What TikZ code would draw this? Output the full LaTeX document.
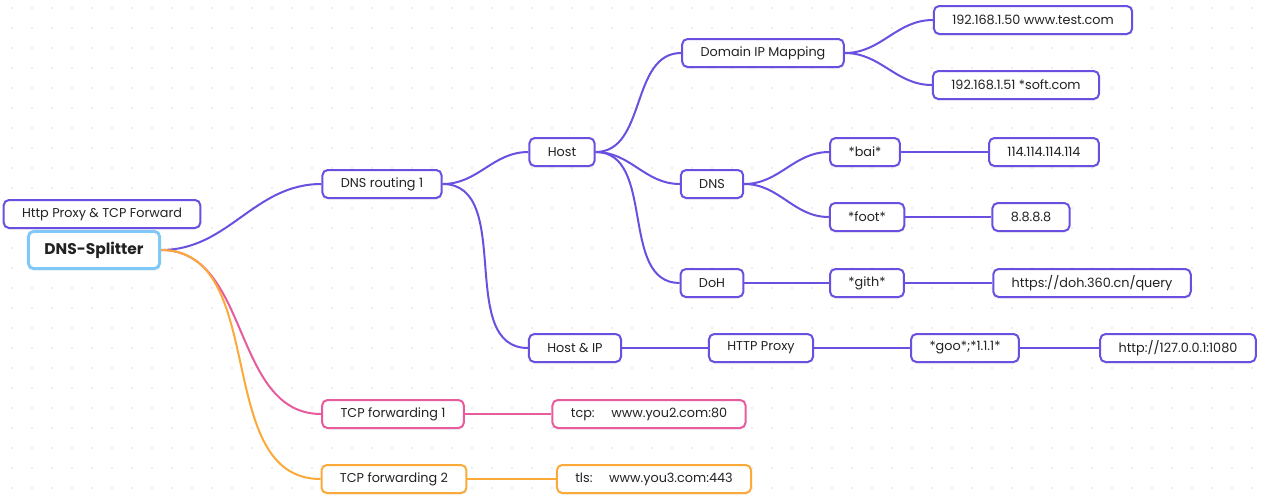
\documentclass[tikz,border=0pt]{standalone}
\usepackage{fontspec}
\setmainfont{Poppins}
\usepackage{xcolor}
\usetikzlibrary{shadows,backgrounds}
\definecolor{MapPurple}{HTML}{6A4FE0}
\definecolor{MapPink}{HTML}{E65C9C}
\definecolor{MapOrange}{HTML}{FBAA3A}
\definecolor{MapBlue}{HTML}{80C8F8}
\definecolor{MapDot}{HTML}{DCDCDC}
\definecolor{MapText}{HTML}{222222}

\begin{document}
\begin{tikzpicture}[
    x=0.75pt, y=-0.75pt,
    topic/.style={
      rounded corners=4pt,
      draw=MapPurple,
      fill=white,
      line width=1.5pt,
      minimum height=21pt,
      inner xsep=13.8pt,
      inner ysep=0pt,
      text=MapText,
      drop shadow={opacity=0.08,shadow xshift=0pt,shadow yshift=-1.5pt},
      font=\fontsize{9.6}{11}\selectfont
    },
    pinktopic/.style={topic,draw=MapPink},
    orangetopic/.style={topic,draw=MapOrange},
    roottopic/.style={topic,draw=MapBlue,line width=2.2pt,minimum height=28pt,
      inner xsep=12pt,font=\fontsize{11.6}{14}\selectfont\bfseries},
    link/.style={line width=1.5pt,color=MapPurple},
    pinklink/.style={link,color=MapPink},
    orangelink/.style={link,color=MapOrange}
  ]
  \useasboundingbox (0,0) rectangle (1268,501);

  \node[topic] (note) at (102,214) {Http Proxy \& TCP Forward};
  \node[roottopic] (root) at (94,250) {DNS-Splitter};

  \node[topic] (route) at (382,184) {DNS routing 1};
  \node[topic] (host) at (562,152) {Host};
  \node[topic] (map) at (763,53) {Domain IP Mapping};
  \node[topic] (test) at (1033,20) {192.168.1.50 www.test.com};
  \node[topic] (soft) at (1016,85) {192.168.1.51 *soft.com};
  \node[topic] (dns) at (712,184) {DNS};
  \node[topic] (bai) at (865,152) {*bai*};
  \node[topic] (ip114) at (1044,152) {114.114.114.114};
  \node[topic] (foot) at (867,217) {*foot*};
  \node[topic] (ip8) at (1031,217) {8.8.8.8};
  \node[topic] (doh) at (712,283) {DoH};
  \node[topic] (gith) at (867,283) {*gith*};
  \node[topic] (dohurl) at (1092,283) {https://doh.360.cn/query};
  \node[topic] (hostip) at (575,348) {Host \& IP};
  \node[topic] (proxy) at (761,348) {HTTP Proxy};
  \node[topic] (goo) at (965,348) {*goo*;*1.1.1*};
  \node[topic] (proxyurl) at (1178,348) {http://127.0.0.1:1080};

  \node[pinktopic] (tcp1) at (393,414) {TCP forwarding 1};
  \node[pinktopic] (you2) at (649,414) {tcp:\hspace{1.3em}www.you2.com:80};
  \node[orangetopic] (tcp2) at (394,479) {TCP forwarding 2};
  \node[orangetopic] (you3) at (654,479) {tls:\hspace{1.3em}www.you3.com:443};

  \begin{scope}[on background layer]
    % dotted canvas
    \fill[white] (0,0) rectangle (1268,501);
    \foreach \x in {12,32,...,1268}
      \foreach \y in {8,28,...,501}
        \fill[MapDot] (\x,\y) circle (0.6pt);
    % links under the boxes
    \draw[link] (root.east) to[out=0,in=180] (route.west);
    \draw[link] (route.east) to[out=0,in=180] (host.west);
    \draw[link] (route.east) to[out=0,in=180] (hostip.west);
    \draw[link] (host.east) to[out=0,in=180] (map.west);
    \draw[link] (host.east) to[out=0,in=180] (dns.west);
    \draw[link] (host.east) to[out=0,in=180] (doh.west);
    \draw[link] (map.east) to[out=0,in=180] (test.west);
    \draw[link] (map.east) to[out=0,in=180] (soft.west);
    \draw[link] (dns.east) to[out=0,in=180] (bai.west);
    \draw[link] (dns.east) to[out=0,in=180] (foot.west);
    \draw[link] (bai) -- (ip114);
    \draw[link] (foot) -- (ip8);
    \draw[link] (doh) -- (gith);
    \draw[link] (gith) -- (dohurl);
    \draw[link] (hostip) -- (proxy);
    \draw[link] (proxy) -- (goo);
    \draw[link] (goo) -- (proxyurl);
    \draw[pinklink] (root.east) to[out=0,in=180] (tcp1.west);
    \draw[pinklink] (tcp1) -- (you2);
    \draw[orangelink] (root.east) to[out=0,in=180] (tcp2.west);
    \draw[orangelink] (tcp2) -- (you3);
  \end{scope}
\end{tikzpicture}
\end{document}
